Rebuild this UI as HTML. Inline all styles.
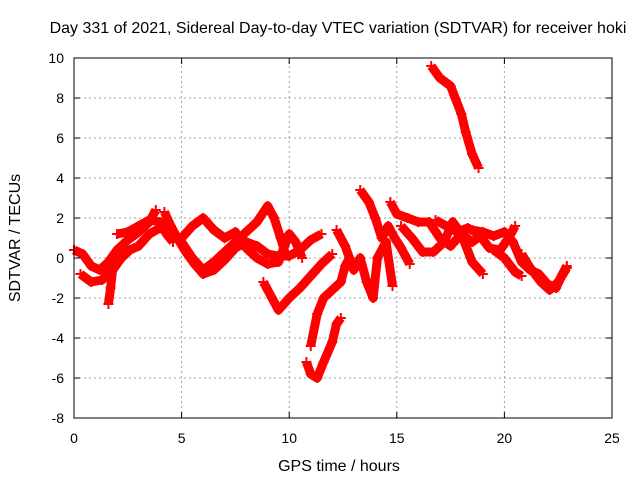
<!DOCTYPE html>
<html><head><meta charset="utf-8"><style>
body{margin:0;background:#fff}
svg{font-family:"Liberation Sans",sans-serif}
</style></head><body>
<svg id="chart" width="640" height="480" xmlns="http://www.w3.org/2000/svg">
<rect width="640" height="480" fill="#fff"/>
<g id="grid"></g>
<g id="series"></g>
<rect x="74" y="58" width="538" height="360" fill="none" stroke="#000" stroke-width="1"/>
<g id="ticks"></g>
<text x="338" y="33" text-anchor="middle" font-size="16">Day 331 of 2021, Sidereal Day-to-day VTEC variation (SDTVAR) for receiver hoki</text>
<text x="339" y="471" text-anchor="middle" font-size="16">GPS time / hours</text>
<text transform="translate(20,238) rotate(-90)" text-anchor="middle" font-size="16">SDTVAR / TECUs</text>
</svg>
<script>
const xTicks=[0,5,10,15,20,25];
const yTicks=[-8,-6,-4,-2,0,2,4,6,8,10];
const track1=[[0,0.4],[0.4,0.2],[0.8,-0.4],[1.2,-0.6],[1.6,-0.2],[2,0.4],[2.5,0.9],[3,1.3],[3.5,1.8],[3.8,2.4]];
const track2=[[0.3,-0.8],[0.8,-1.2],[1.3,-1.1],[1.8,-0.6],[2.2,0],[2.6,0.4],[3,0.6],[3.5,1.2],[4,1.5],[4.5,1.2],[5,0.8],[5.5,0],[6,-0.6],[6.5,-0.2],[7,0.3],[7.5,0.8],[8,1.3],[8.5,1.8],[9,2.6],[9.3,2.0],[9.6,1.0],[9.8,0.3]];
const track3=[[1.6,-2.3],[1.7,-1.5],[1.8,-0.5],[2,0.2]];
const track4=[[2,1.2],[2.5,1.3],[3,1.6],[3.5,1.9],[4,1.8],[4.3,1.2],[4.6,0.8]];
const track5=[[4.2,2.3],[4.5,1.6],[4.8,1.0],[5.2,0.3],[5.6,-0.3],[6,-0.8],[6.5,-0.6],[7,-0.1],[7.5,0.5],[8,0.8],[8.5,0.6],[9,0.2],[9.5,0.1],[10,0.1],[10.5,0.4],[11,0.9],[11.5,1.2]];
const track6=[[5,1.0],[5.5,1.6],[6,2.0],[6.5,1.4],[7,1.0],[7.5,1.3],[8,0.5],[8.5,0],[9,-0.3],[9.5,-0.2],[10,1.2],[10.3,0.8],[10.6,0]];
const track7=[[8.8,-1.2],[9.2,-2.0],[9.5,-2.6],[10,-2.0],[10.5,-1.5],[11,-0.9],[11.5,-0.3],[12,0.2]];
const track8=[[10.8,-5.2],[11,-5.8],[11.3,-6.0],[11.6,-5.2],[12,-4.2],[12.2,-3.3],[12.4,-3.0]];
const track9=[[11,-4.4],[11.3,-2.8],[11.6,-2.0],[12,-1.6],[12.4,-1.2],[12.6,-0.4],[12.8,0]];
const track10=[[12.2,1.4],[12.6,0.6],[13,-0.6],[13.3,0.0],[13.6,-1.2],[13.9,-2.0],[14.1,0.0],[14.5,0.8],[14.8,-1.4]];
const track11=[[13.3,3.4],[13.7,2.8],[14,2.0],[14.3,1.0],[14.6,1.6],[14.9,1.0],[15.2,0.5],[15.6,-0.3]];
const track12=[[14.7,2.8],[15,2.2],[15.5,2.0],[16,1.8],[16.5,1.8],[17,1.0],[17.5,0.6],[18,1.2],[18.5,0.8],[19,1.2]];
const track13=[[15.2,1.6],[15.7,1.0],[16.2,0.3],[16.7,0.3],[17.2,0.8],[17.6,1.8],[18,1.2],[18.5,-0.2],[19,-0.8]];
const track14=[[16.8,1.9],[17.3,1.6],[17.8,1.3],[18.3,1.5],[18.8,1.2],[19.3,0.5],[19.8,0.4],[20.2,1.0],[20.5,1.6]];
const track15=[[18.5,1.4],[19,1.3],[19.5,1.1],[20,1.3],[20.4,0.8],[20.8,-0.2],[21.2,-0.6],[21.6,-0.8],[22,-1.3],[22.4,-1.5],[22.7,-0.8],[22.9,-0.4]];
const track16=[[19.5,0.4],[20,0],[20.5,-0.7],[20.8,-0.9]];
const track17=[[16.6,9.6],[17,9.0],[17.5,8.6],[18,7.2],[18.2,6.3],[18.5,5.2],[18.8,4.5]];
const track18=[[20.8,0.2],[21.2,-0.5],[21.7,-1.2],[22.1,-1.6],[22.5,-1.2],[22.9,-0.5]];
const tracks=[track1,track2,track3,track4,track5,track6,track7,track8,track9,track10,track11,track12,track13,track14,track15,track16,track17,track18];
const X0=74,X1=612,Y0=418,Y1=58,XMIN=0,XMAX=25,YMIN=-8,YMAX=10;
function sx(v){return X0+(v-XMIN)/(XMAX-XMIN)*(X1-X0);}
function sy(v){return Y0-(v-YMIN)/(YMAX-YMIN)*(Y0-Y1);}
const NS="http://www.w3.org/2000/svg";
function mk(tag,attrs,parent){const e=document.createElementNS(NS,tag);for(const k in attrs)e.setAttribute(k,attrs[k]);parent.appendChild(e);return e;}
const grid=document.getElementById('grid'),ticks=document.getElementById('ticks'),series=document.getElementById('series');
xTicks.forEach(t=>{const x=sx(t);
 const g=mk('line',{x1:x,x2:x,y1:Y0,y2:Y1,stroke:'#a0a0a0','stroke-dasharray':'2,3'},grid);
 
 
 const l=mk('line',{x1:x,x2:x,y1:Y0,y2:Y0-6,stroke:'#000'},ticks);
 
 
 const l2=mk('line',{x1:x,x2:x,y1:Y1,y2:Y1+6,stroke:'#000'},ticks);
 
 
 const tx=mk('text',{x:x,y:443,'text-anchor':'middle','font-size':'14'},ticks);tx.textContent=t;
 
 
});
yTicks.forEach(t=>{const y=sy(t);
 const g=mk('line',{x1:X0,x2:X1,y1:y,y2:y,stroke:'#a0a0a0','stroke-dasharray':'2,3'},grid);
 
 
 const l=mk('line',{x1:X0,x2:X0+6,y1:y,y2:y,stroke:'#000'},ticks);
 
 
 const l2=mk('line',{x1:X1,x2:X1-6,y1:y,y2:y,stroke:'#000'},ticks);
 
 
 const tx=mk('text',{x:X0-10,y:y+5,'text-anchor':'end','font-size':'14'},ticks);tx.textContent=t;
 
 
});
tracks.forEach((tr,i)=>{
 const p=mk('polyline',{points:tr.map(d=>sx(d[0])+','+sy(d[1])).join(' '),fill:'none',stroke:'#ff0000','stroke-width':'9','stroke-linejoin':'round'},series);
 
 
 tr.forEach(d=>{const x=sx(d[0]),y=sy(d[1]);
  const m=mk('path',{d:`M${x-5},${y}H${x+5}M${x},${y-5}V${y+5}`,stroke:'#ff0000','stroke-width':'2'},series);
  
  
 });
});
</script>
</body></html>
